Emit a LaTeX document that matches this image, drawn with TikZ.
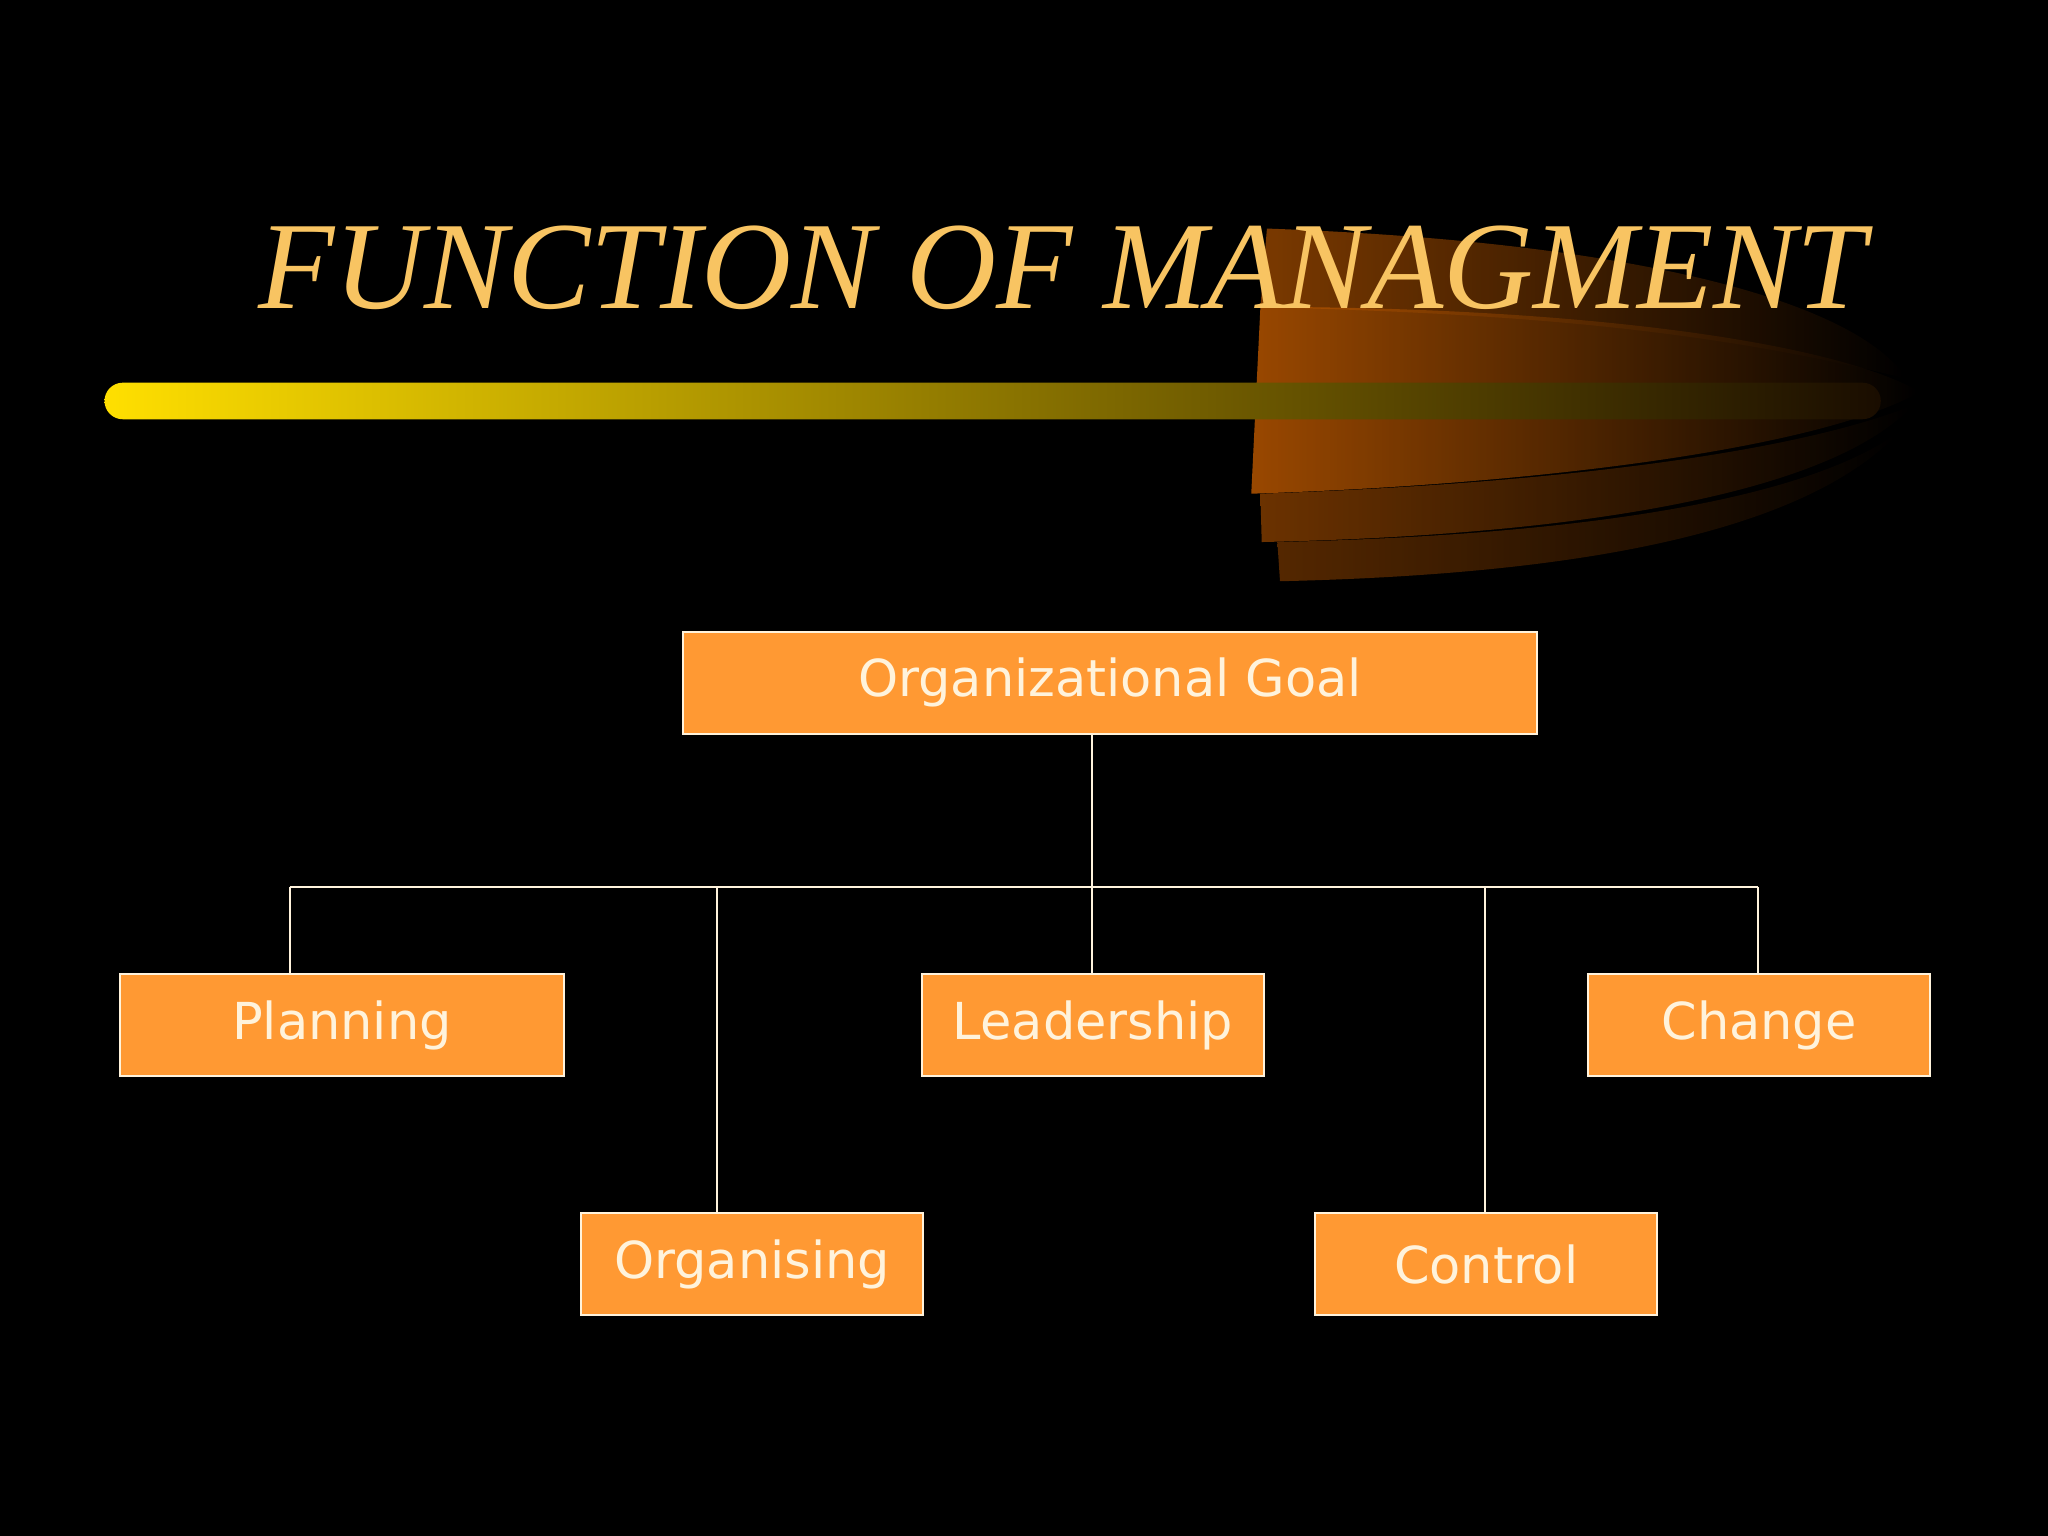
\documentclass[tikz,border=0pt]{standalone}
\usepackage{fontspec}
\setmainfont{DejaVu Sans}
\newfontfamily\titlefont{Liberation Serif}
\definecolor{boxfill}{HTML}{FF9933}
\definecolor{boxtext}{HTML}{FFF3DC}
\definecolor{titlecol}{HTML}{F8C462}
\definecolor{swoosh}{HTML}{C05A00}
\begin{document}
\begin{tikzpicture}[x=0.013061cm,y=-0.013061cm,
  box/.style={draw=boxtext,line width=0.6pt,fill=boxfill,text=boxtext,font=\fontsize{14.5}{17}\selectfont,anchor=north west,inner sep=0pt},
  conn/.style={draw=boxtext,line width=0.5pt}]
\fill[black] (0,0) rectangle (1568,1176);
\useasboundingbox (0,0) rectangle (1568,1176);
% swoosh
\shade[left color=swoosh!80!black,right color=black,opacity=0.8] (970,175) .. controls (1250,185) and (1420,230) .. (1460,290) .. controls (1300,250) and (1150,240) .. (965,235) -- cycle;
\shade[left color=swoosh,right color=black,opacity=0.8] (965,235) .. controls (1200,235) and (1400,260) .. (1470,300) .. controls (1400,340) and (1200,370) .. (958,378) -- cycle;
\shade[left color=swoosh!70!black,right color=black,opacity=0.8] (965,378) .. controls (1200,370) and (1380,345) .. (1465,310) .. controls (1400,380) and (1200,410) .. (966,415) -- cycle;
\shade[left color=swoosh!55!black,right color=black,opacity=0.8] (978,415) .. controls (1200,410) and (1380,385) .. (1455,330) .. controls (1380,410) and (1200,440) .. (980,445) -- cycle;
% bar
\shade[left color=yellow!75!orange,right color=black!90!orange,rounded corners=14*0.013061cm] (80,293) rectangle (1440,321);
\node[text=titlecol,font=\titlefont\itshape\fontsize{35.5}{40}\selectfont,anchor=base west,inner sep=0pt] (title) at (197,236) {FUNCTION OF MANAGMENT};
% boxes
\node[box,minimum width=654*0.013061cm,minimum height=78*0.013061cm] (goal) at (522,483) {Organizational Goal};
\node[box,minimum width=340*0.013061cm,minimum height=78*0.013061cm] (plan) at (91,745) {Planning};
\node[box,minimum width=262*0.013061cm,minimum height=78*0.013061cm] (lead) at (705,745) {Leadership};
\node[box,minimum width=262*0.013061cm,minimum height=78*0.013061cm] (chg) at (1215,745) {Change};
\node[box,minimum width=262*0.013061cm,minimum height=78*0.013061cm] (org) at (444,928) {Organising};
\node[box,minimum width=262*0.013061cm,minimum height=78*0.013061cm] (ctl) at (1006,928) {Control};
\coordinate (j) at (836,679);
\coordinate (jl) at (222,679);
\coordinate (jr) at (1346,679);
\coordinate (jo) at (549,679);
\coordinate (jc) at (1137,679);
\draw[conn] (goal.south -| j) -- (j);
\draw[conn] (jl) -- (jr);
\draw[conn] (jl) -- (plan.north -| jl);
\draw[conn] (jo) -- (org.north -| jo);
\draw[conn] (j) -- (lead.north -| j);
\draw[conn] (jc) -- (ctl.north -| jc);
\draw[conn] (jr) -- (chg.north -| jr);
\end{tikzpicture}
\end{document}
